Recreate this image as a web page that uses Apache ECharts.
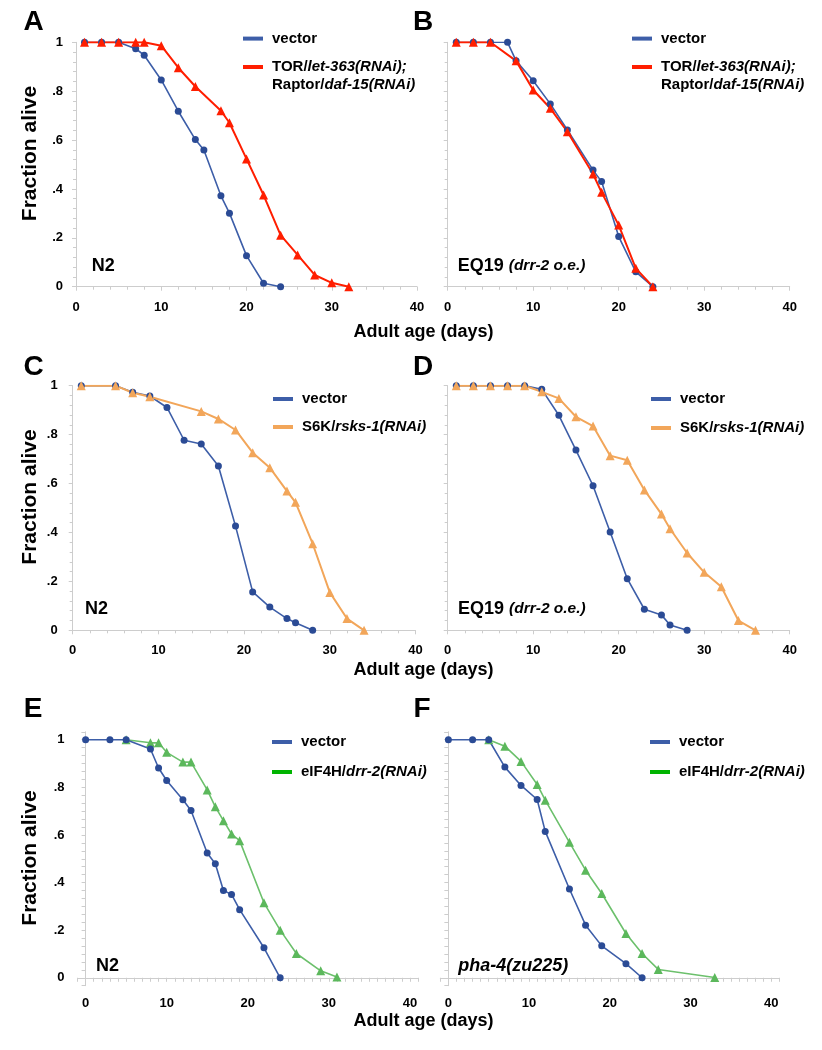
<!DOCTYPE html>
<html><head><meta charset="utf-8">
<script src="https://cdn.jsdelivr.net/npm/echarts@6/dist/echarts.min.js"></script>
<style>html,body{margin:0;padding:0;background:#fff}#c{width:822px;height:1050px}</style>
</head><body><div id="c"></div>
<script>
// ---------- data ----------
// Panel A : N2, vector vs TOR/Raptor RNAi
const aVectorDays  = [1,3,5,7,8,10,12,14,15,17,18,20,22,24];
const aVectorAlive = [1,1,1,0.974,0.947,0.846,0.718,0.602,0.559,0.372,0.301,0.127,0.014,0];
const aTorDays     = [1,3,5,7,8,10,12,14,17,18,20,22,24,26,28,30,32];
const aTorAlive    = [1,1,1,1,1,0.986,0.896,0.819,0.720,0.671,0.523,0.375,0.211,0.130,0.048,0.016,0];
// Panel B : EQ19, vector vs TOR/Raptor RNAi
const bVectorDays  = [1,3,5,7,8,10,12,14,17,18,20,22,24];
const bVectorAlive = [1,1,1,1,0.924,0.843,0.748,0.641,0.477,0.430,0.205,0.061,0];
const bTorDays     = [1,3,5,8,10,12,14,17,18,20,22,24];
const bTorAlive    = [1,1,1,0.924,0.805,0.730,0.634,0.461,0.386,0.252,0.075,0];
// Panel C : N2, vector vs S6K RNAi
const cVectorDays  = [1,5,7,9,11,13,15,17,19,21,23,25,26,28];
const cVectorAlive = [1,1,0.973,0.958,0.911,0.777,0.762,0.672,0.426,0.157,0.095,0.048,0.031,0];
const cS6kDays     = [1,5,7,9,15,17,19,21,23,25,26,28,30,32,34];
const cS6kAlive    = [1,1,0.971,0.955,0.895,0.864,0.819,0.726,0.665,0.569,0.523,0.354,0.155,0.048,0];
// Panel D : EQ19, vector vs S6K RNAi
const dVectorDays  = [1,3,5,7,9,11,13,15,17,19,21,23,25,26,28];
const dVectorAlive = [1,1,1,1,1,0.985,0.879,0.737,0.591,0.402,0.211,0.086,0.063,0.022,0];
const dS6kDays     = [1,3,5,7,9,11,13,15,17,19,21,23,25,26,28,30,32,34,36];
const dS6kAlive    = [1,1,1,1,1,0.975,0.948,0.873,0.835,0.714,0.695,0.574,0.475,0.415,0.316,0.237,0.178,0.040,0];
// Panel E : N2, vector vs eIF4H RNAi
const eVectorDays  = [0,3,5,8,9,10,12,13,15,16,17,18,19,22,24];
const eVectorAlive = [1,1,1,0.961,0.881,0.829,0.748,0.703,0.524,0.479,0.367,0.350,0.286,0.126,0];
const eEifDays     = [5,8,9,10,12,13,15,16,17,18,19,22,24,26,29,31];
const eEifAlive    = [1,0.987,0.987,0.947,0.906,0.906,0.789,0.718,0.660,0.604,0.576,0.315,0.200,0.102,0.029,0.003];
// Panel F : pha-4(zu225), vector vs eIF4H RNAi
const fVectorDays  = [0,3,5,7,9,11,12,15,17,19,22,24];
const fVectorAlive = [1,1,1,0.885,0.808,0.749,0.615,0.373,0.221,0.134,0.059,0];
const fEifDays     = [5,7,9,11,12,15,17,19,22,24,26,33];
const fEifAlive    = [1,0.973,0.909,0.812,0.746,0.569,0.452,0.354,0.186,0.102,0.035,0.001];

// tick labels
const xTickLabels = ['0','10','20','30','40'];
const yTickLabels = ['0','.2','.4','.6','.8','1'];

// names
const nVector = 'vector';
const nTor = 'TOR/let-363(RNAi); Raptor/daf-15(RNAi)';
const nS6k = 'S6K/rsks-1(RNAi)';
const nEif = 'eIF4H/drr-2(RNAi)';

// ---------- styling ----------
const FONT = "'Liberation Sans', Arial, Helvetica, sans-serif";
const BLUE_LINE = '#3d5ea8', BLUE_DOT = '#2b4b95';
const RED = '#ff1e00', ORANGE = '#f2a65a', GREEN_LINE = '#6cc06c', GREEN_DOT = '#5cb85c', GREEN_LEG = '#00b400';
const AXIS_GREY = '#cdcdcd';

const zip = (xs, ys) => xs.map((x, i) => [x, ys[i]]);
const isMult = (v, step) => Math.abs(v / step - Math.round(v / step)) < 1e-6;
const xFmt = v => (isMult(v, 10) && v > -1e-9 && v < 40 + 1e-9) ? xTickLabels[Math.round(v / 10)] : '';
const yFmt = v => (isMult(v, 0.2) && v > -1e-9 && v < 1 + 1e-9) ? yTickLabels[Math.round(v / 0.2)] : '';

const grids = [
  {left: 76,    top: 42.3,  width: 341,   height: 244.4}, // A
  {left: 447.7, top: 42.3,  width: 342,   height: 244.4}, // B
  {left: 72.7,  top: 385.7, width: 342.8, height: 244.6}, // C
  {left: 447.7, top: 385.7, width: 342,   height: 244.6}, // D
  {left: 77.5,  top: 731.8, width: 340.5, height: 253.9}, // E
  {left: 440.3, top: 731.8, width: 339,   height: 253.9}  // F
];

const labelStyle = {fontSize: 13, fontWeight: 'bold', color: '#000', fontFamily: FONT};

const xAxes = grids.map((g, i) => {
  const lower = i >= 4;
  return {
    type: 'value', gridIndex: i,
    min: lower ? -1 : 0, max: lower ? 41 : 40, interval: lower ? 1 : 10,
    axisLine: {show: true, lineStyle: {color: AXIS_GREY, width: 1}},
    axisTick: {show: true, length: 4, lineStyle: {color: AXIS_GREY}},
    minorTick: {show: !lower, splitNumber: 5, length: 3, lineStyle: {color: AXIS_GREY}},
    splitLine: {show: false},
    axisLabel: Object.assign({margin: lower ? 11 : 14, formatter: xFmt}, labelStyle)
  };
});
const yAxes = grids.map((g, i) => {
  const lower = i >= 4;
  return {
    type: 'value', gridIndex: i,
    min: lower ? -1/30 : 0, max: lower ? 1 + 1/30 : 1, interval: lower ? 1/30 : 0.2,
    axisLine: {show: true, lineStyle: {color: AXIS_GREY, width: 1}},
    axisTick: {show: true, length: 4, lineStyle: {color: AXIS_GREY}},
    minorTick: {show: !lower, splitNumber: 5, length: 3, lineStyle: {color: AXIS_GREY}},
    splitLine: {show: false},
    axisLabel: Object.assign({show: i % 2 === 0, margin: i === 2 ? 15 : 13, formatter: yFmt}, labelStyle)
  };
});

function vecSeries(idx, xs, ys) {
  return {name: nVector, type: 'line', xAxisIndex: idx, yAxisIndex: idx, data: zip(xs, ys),
    symbol: 'circle', symbolSize: 7, showSymbol: true,
    lineStyle: {color: BLUE_LINE, width: 1.6}, itemStyle: {color: BLUE_DOT}, animation: false};
}
function trtSeries(idx, name, xs, ys, line, dot, w) {
  return {name: name, type: 'line', xAxisIndex: idx, yAxisIndex: idx, data: zip(xs, ys),
    symbol: 'triangle', symbolSize: 9, showSymbol: true,
    lineStyle: {color: line, width: w}, itemStyle: {color: dot}, animation: false};
}

const series = [
  vecSeries(0, aVectorDays, aVectorAlive),
  trtSeries(0, nTor, aTorDays, aTorAlive, RED, RED, 2),
  vecSeries(1, bVectorDays, bVectorAlive),
  trtSeries(1, nTor, bTorDays, bTorAlive, RED, RED, 2),
  vecSeries(2, cVectorDays, cVectorAlive),
  trtSeries(2, nS6k, cS6kDays, cS6kAlive, ORANGE, ORANGE, 2),
  vecSeries(3, dVectorDays, dVectorAlive),
  trtSeries(3, nS6k, dS6kDays, dS6kAlive, ORANGE, ORANGE, 2),
  trtSeries(4, nEif, eEifDays, eEifAlive, GREEN_LINE, GREEN_DOT, 1.6),
  vecSeries(4, eVectorDays, eVectorAlive),
  trtSeries(5, nEif, fEifDays, fEifAlive, GREEN_LINE, GREEN_DOT, 1.6),
  vecSeries(5, fVectorDays, fVectorAlive)
];

// ---------- legends ----------
const richLeg = {
  n: {fontSize: 15, fontWeight: 'bold', color: '#000', fontFamily: FONT, lineHeight: 18},
  i: {fontSize: 15, fontWeight: 'bold', fontStyle: 'italic', color: '#000', fontFamily: FONT, lineHeight: 18}
};
const legendLabel = {
  [nVector]: '{n|vector}',
  [nTor]: '{n|TOR/}{i|let-363(RNAi);}\n{n|Raptor/}{i|daf-15(RNAi)}',
  [nS6k]: '{n|S6K/}{i|rsks-1(RNAi)}',
  [nEif]: '{n|eIF4H/}{i|drr-2(RNAi)}'
};
function legendItem(name, color, left, cy) {
  const twoLine = name === nTor;
  return {
    left: left, top: twoLine ? cy - 27 : cy - 9, orient: 'vertical', padding: 0,
    itemWidth: 20, itemHeight: 4, icon: 'rect', selectedMode: false,
    data: [{name: name, itemStyle: {color: color}}],
    formatter: n => legendLabel[n],
    textStyle: {fontSize: 15, fontWeight: 'bold', color: '#000', fontFamily: FONT, lineHeight: 18,
      padding: twoLine ? [18, 0, 0, 4] : [0, 0, 0, 4], rich: richLeg}
  };
}
const legends = [
  legendItem(nVector, BLUE_LINE, 243, 38.6), legendItem(nTor, RED, 243, 67),
  legendItem(nVector, BLUE_LINE, 632, 38.6), legendItem(nTor, RED, 632, 67),
  legendItem(nVector, BLUE_LINE, 273, 399),  legendItem(nS6k, ORANGE, 273, 427),
  legendItem(nVector, BLUE_LINE, 651, 399),  legendItem(nS6k, ORANGE, 651, 428),
  legendItem(nVector, BLUE_LINE, 272, 742),  legendItem(nEif, GREEN_LEG, 272, 772),
  legendItem(nVector, BLUE_LINE, 650, 742),  legendItem(nEif, GREEN_LEG, 650, 772)
];

// ---------- texts ----------
function txt(x, y, text, opts) {
  return Object.assign({type: 'text', x: x, y: y, silent: true, style: Object.assign({
    text: text, fill: '#000', fontFamily: FONT, fontWeight: 'bold', fontSize: 18,
    align: 'left', verticalAlign: 'middle', textAlign: 'left', textVerticalAlign: 'middle'
  }, opts.style || {})}, opts.el || {});
}
const center = {align: 'center', textAlign: 'center'};
const richAnn = {
  a: {fontSize: 18, fontWeight: 'bold', fontFamily: FONT, fill: '#000'},
  b: {fontSize: 15.5, fontWeight: 'bold', fontStyle: 'italic', fontFamily: FONT, fill: '#000'}
};
const graphics = [
  // panel letters
  txt(33.5, 22, 'A', {style: Object.assign({fontSize: 28}, center)}),
  txt(423, 22, 'B', {style: Object.assign({fontSize: 28}, center)}),
  txt(33.5, 367, 'C', {style: Object.assign({fontSize: 28}, center)}),
  txt(423, 367, 'D', {style: Object.assign({fontSize: 28}, center)}),
  txt(33, 709.5, 'E', {style: Object.assign({fontSize: 28}, center)}),
  txt(422, 709.5, 'F', {style: Object.assign({fontSize: 28}, center)}),
  // y titles
  txt(30, 153.5, 'Fraction alive', {style: Object.assign({fontSize: 21}, center), el: {rotation: Math.PI / 2}}),
  txt(30, 497, 'Fraction alive', {style: Object.assign({fontSize: 21}, center), el: {rotation: Math.PI / 2}}),
  txt(30, 858, 'Fraction alive', {style: Object.assign({fontSize: 21}, center), el: {rotation: Math.PI / 2}}),
  // x titles
  txt(423.5, 332, 'Adult age (days)', {style: center}),
  txt(423.5, 670, 'Adult age (days)', {style: center}),
  txt(423.5, 1021, 'Adult age (days)', {style: center}),
  // strain annotations
  txt(91.7, 265.7, 'N2', {style: {}}),
  txt(457.7, 265.7, '{a|EQ19} {b|(drr-2 o.e.)}', {style: {rich: richAnn}}),
  txt(85, 609, 'N2', {style: {}}),
  txt(458, 609, '{a|EQ19} {b|(drr-2 o.e.)}', {style: {rich: richAnn}}),
  txt(96, 965.7, 'N2', {style: {}}),
  txt(458.3, 965.7, 'pha-4(zu225)', {style: {fontStyle: 'italic'}})
];

const chart = echarts.init(document.getElementById('c'), null, {renderer: 'canvas'});
chart.setOption({
  backgroundColor: '#fff',
  animation: false,
  grid: grids,
  xAxis: xAxes,
  yAxis: yAxes,
  legend: legends,
  series: series,
  graphic: graphics
});
</script></body></html>
